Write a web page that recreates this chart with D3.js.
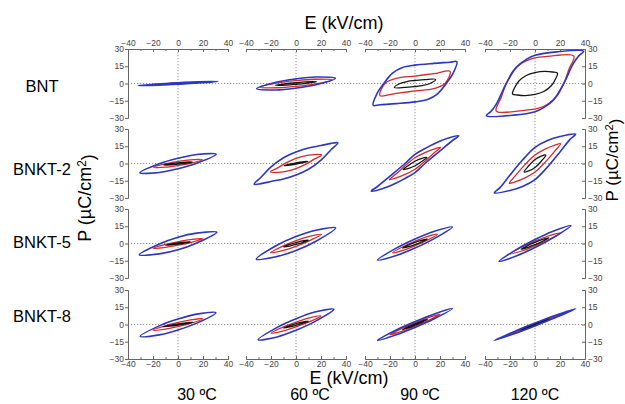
<!DOCTYPE html>
<html>
<head>
<meta charset="utf-8">
<script src="https://cdn.jsdelivr.net/npm/d3@7"></script>
<style>
  body { margin: 0; background: #fff; }
  text { font-family: "Liberation Sans", Arial, sans-serif; }
  .tick text { font-size: 8.5px; fill: #444; }
  .domain, .tick line { stroke: #666; }
</style>
</head>
<body>
<div id="chart"></div>
<script>
var rowNames = ["BNT", "BNKT-2", "BNKT-5", "BNKT-8"];
var temps = ["30 ºC", "60 ºC", "90 ºC", "120 ºC"];
var eTicks = [-40, -20, 0, 20, 40];
var eMinor = [-30, -10, 10, 30];
var pTicks = [-30, -15, 0, 15, 30];

// loop order in each panel: black, red, blue
// each loop = upper branch [E, P] from -Emax to +Emax; the lower branch is the same points turned through the origin
var bntLoops = [
  [ [[-15,-0.8],[-7.5,-0.15],[0,0.3],[7.5,0.65],[15,0.8]],
    [[-25,-1.4],[-12.5,-0.35],[0,0.4],[12.5,1.05],[25,1.4]],
    [[-32,-1.8],[-16,-0.4],[0,0.6],[16,1.4],[32,1.8]] ],
  [ [[-16.5,-1.5],[-8,-0.15],[0,0.7],[8,1.35],[16.5,1.5]],
    [[-29,-3.2],[-14.5,0.5],[0,2.5],[14.5,3.7],[29,3.2]],
    [[-31.5,-4.5],[-16,1.1],[0,4],[16,5.6],[31.5,4.5]] ],
  [ [[-16.5,-3.5],[-12,0],[-6,1.8],[0,2.6],[8,3.4],[16.5,3.5]],
    [[-28,-10.5],[-24,0],[-15,4.5],[0,6.5],[15,8.5],[28,10.5]],
    [[-33.5,-19],[-30,-8],[-25,0],[-18,9],[-10,14],[0,16],[15,17.5],[28,18.5],[33.5,19]] ],
  [ [[-18,-9],[-16,-3],[-13,2],[-7,7],[0,9.5],[8,10.5],[14,10],[18,9]],
    [[-31,-24],[-27,-12],[-23,0],[-17.5,11],[-10,18],[-3,21.5],[10,23.5],[31,24]],
    [[-39,-28],[-35,-24],[-30.5,-17],[-23,0],[-15,14],[-7,21],[0,24.5],[17,27.5],[39,28]] ]
];
var bnkt2Loops = [
  [ [[-11.5,-1.3],[-6,-0.15],[0,0.6],[6,1.2],[11.5,1.3]],
    [[-19.5,-3.4],[-10,-0.2],[0,1.8],[10,3.2],[19.5,3.4]],
    [[-30.5,-8],[-15,-0.2],[0,4.5],[15,7.8],[30.5,8]] ],
  [ [[-9.5,-1.8],[-5,-0.5],[0,0.6],[5,1.5],[9.5,1.8]],
    [[-20.5,-7.3],[-15,-4],[-8,0.5],[0,4.4],[8,6.8],[15,7.8],[20.5,7.3]],
    [[-33.5,-18],[-28,-12],[-20,-3],[-10,5],[0,10],[10,13.5],[20,15.6],[28,17.5],[33.5,18]] ],
  [ [[-9.5,-5.2],[-5,-1.5],[0,2],[5,4.3],[9.5,5.2]],
    [[-20.5,-14],[-15,-9],[-8,-2],[0,5],[8,9.5],[15,12.5],[20.5,14]],
    [[-35,-24],[-30,-20],[-20,-11],[-8,0],[0,8],[8,13],[15,17],[25,21.5],[35,24]] ],
  [ [[-8.7,-7.3],[-5,-2],[0,3.5],[5,6.5],[8.7,7.3]],
    [[-20.5,-17.2],[-16,-11],[-8,-1],[0,7.3],[8,12.5],[16,16],[20.5,17.2]],
    [[-32.5,-25.5],[-28,-21],[-20,-10],[-10,3],[0,14],[10,20],[20,23.5],[32.5,25.5]] ]
];
var bnkt5Loops = [
  [ [[-10,-1.5],[-5,-0.3],[0,0.5],[5,1.1],[10,1.5]],
    [[-20,-4.2],[-10,-0.8],[0,1.5],[10,3.3],[20,4.2]],
    [[-31,-9.8],[-15,-0.5],[0,5.5],[15,9],[31,9.8]] ],
  [ [[-10,-3],[-5,-0.8],[0,0.8],[5,2.2],[10,3]],
    [[-20.4,-8],[-10,-2],[0,2.5],[10,6],[20.4,8]],
    [[-31.7,-13.6],[-16,-2],[0,6],[16,11.5],[31.7,13.6]] ],
  [ [[-10,-4],[-5,-1.2],[0,1],[5,2.8],[10,4]],
    [[-18,-8.1],[-9,-2.4],[0,2],[9,5.8],[18,8.1]],
    [[-30,-14.4],[-15,-4],[0,4],[15,10.5],[30,14.4]] ],
  [ [[-11,-5],[-5.5,-1.6],[0,1],[5.5,3.3],[11,5]],
    [[-20,-9],[-10,-2.8],[0,2],[10,6.3],[20,9]],
    [[-28.7,-15.5],[-14,-4.7],[0,3.5],[14,10.5],[28.7,15.5]] ]
];
var bnkt8Loops = [
  [ [[-12,-2],[-6,-0.5],[0,0.6],[6,1.5],[12,2]],
    [[-20,-5],[-10,-1],[0,1.8],[10,4],[20,5]],
    [[-30.3,-10.3],[-15,-1.2],[0,4.7],[15,9],[30.3,10.3]] ],
  [ [[-10,-3],[-5,-0.9],[0,0.7],[5,2.1],[10,3]],
    [[-20,-7.5],[-10,-2],[0,2],[10,5.5],[20,7.5]],
    [[-30.3,-13.2],[-15,-2.5],[0,5],[15,10.8],[30.3,13.2]] ],
  [ [[-10,-4.5],[-5,-1.7],[0,0.6],[5,2.8],[10,4.5]],
    [[-20,-9],[-10,-3.2],[0,1.5],[10,5.8],[20,9]],
    [[-29.9,-13.8],[-15,-4.8],[0,2.5],[15,9],[29.9,13.8]] ],
  [ [[-12,-5],[-6,-2.2],[0,0.4],[6,2.8],[12,5]],
    [[-25,-10.5],[-12.5,-4.6],[0,0.8],[12.5,6],[25,10.5]],
    [[-32.5,-13.8],[-16,-5.8],[0,1.2],[16,7.8],[32.5,13.8]] ]
];
var rowLoops = [bntLoops, bnkt2Loops, bnkt5Loops, bnkt8Loops];

// layout
var svgWidth = 625, svgHeight = 404;
var colLeft = [128, 246, 365, 485];
var panelW = 100;
var rowTop = [49, 129, 209, 290];
var panelH = 69;
var loopColors = ["#151515", "#d62a2c", "#2b36c2"];
var loopWidths = [1.3, 1.3, 1.6];
var drawOrder = [1, 0, 2]; // red, black, blue on top

var svg = d3.select("#chart").append("svg")
  .attr("width", svgWidth)
  .attr("height", svgHeight);

var xScales = colLeft.map(x0 => d3.scaleLinear().domain([-40, 40]).range([x0, x0 + panelW]));
var yScales = rowTop.map(y0 => d3.scaleLinear().domain([-30, 30]).range([y0 + panelH, y0]));

var lastRow = rowTop.length - 1, lastCol = colLeft.length - 1;

// dotted zero lines
var grid = svg.append("g").attr("stroke", "#888").attr("stroke-dasharray", "1.2,1.8").attr("stroke-width", 0.9);
yScales.forEach(function(y) {
  grid.append("line")
    .attr("x1", colLeft[0]).attr("x2", colLeft[lastCol] + panelW)
    .attr("y1", y(0)).attr("y2", y(0));
});
xScales.forEach(function(x) {
  grid.append("line")
    .attr("x1", x(0)).attr("x2", x(0))
    .attr("y1", rowTop[0]).attr("y2", rowTop[lastRow] + panelH);
});

// axes
xScales.forEach(function(x) {
  svg.append("g")
    .attr("transform", `translate(0, ${rowTop[0]})`)
    .call(d3.axisTop(x).tickValues(eTicks).tickSize(-3).tickPadding(3));
  svg.append("g")
    .attr("transform", `translate(0, ${rowTop[0]})`)
    .call(d3.axisTop(x).tickValues(eMinor).tickSize(-2).tickFormat(""));
  svg.append("g")
    .attr("transform", `translate(0, ${rowTop[lastRow] + panelH})`)
    .call(d3.axisBottom(x).tickValues(eTicks).tickSize(-3).tickPadding(2));
  svg.append("g")
    .attr("transform", `translate(0, ${rowTop[lastRow] + panelH})`)
    .call(d3.axisBottom(x).tickValues(eMinor).tickSize(-2).tickFormat(""));
});
yScales.forEach(function(y) {
  svg.append("g")
    .attr("transform", `translate(${colLeft[0]}, 0)`)
    .call(d3.axisLeft(y).tickValues(pTicks).tickSize(3).tickPadding(1));
  svg.append("g")
    .attr("transform", `translate(${colLeft[lastCol] + panelW}, 0)`)
    .call(d3.axisRight(y).tickValues(pTicks).tickSize(-3).tickPadding(3));
});

// hysteresis loops
rowLoops.forEach(function(row, r) {
  row.forEach(function(panel, c) {
    var x = xScales[c], y = yScales[r];
    var line = d3.line()
      .x(d => x(d[0]))
      .y(d => y(d[1]))
      .curve(d3.curveCatmullRomClosed.alpha(0.5));
    drawOrder.forEach(function(k) {
      var upper = panel[k];
      var pts = upper.concat(upper.slice(1, -1).map(p => [-p[0], -p[1]]));
      svg.append("path")
        .attr("d", line(pts))
        .attr("fill", "none")
        .attr("stroke", loopColors[k])
        .attr("stroke-width", loopWidths[k]);
    });
  });
});

// titles and labels
svg.append("text")
  .attr("x", 344).attr("y", 29)
  .attr("text-anchor", "middle")
  .style("font-size", "18px")
  .text("E (kV/cm)");

svg.append("text")
  .attr("x", 349).attr("y", 384)
  .attr("text-anchor", "middle")
  .style("font-size", "18px")
  .text("E (kV/cm)");

var tempX = [197, 310, 420, 535];
temps.forEach(function(t, i) {
  svg.append("text")
    .attr("x", tempX[i]).attr("y", 400)
    .attr("text-anchor", "middle")
    .style("font-size", "16px")
    .text(t);
});

var rowLabelY = [92, 175, 248, 322];
rowNames.forEach(function(n, i) {
  svg.append("text")
    .attr("x", 42).attr("y", rowLabelY[i])
    .attr("text-anchor", "middle")
    .style("font-size", "16.5px")
    .text(n);
});

function pLabel(x, y, size) {
  var t = svg.append("text")
    .attr("transform", `translate(${x}, ${y}) rotate(-90)`)
    .attr("text-anchor", "middle")
    .style("font-size", size + "px");
  t.append("tspan").text("P (µC/cm");
  t.append("tspan").attr("dy", "-0.45em").style("font-size", (size * 0.66) + "px").text("2");
  t.append("tspan").attr("dy", "0.45em").text(")");
}
pLabel(91, 198, 18);
pLabel(618, 160, 17);
</script>
</body>
</html>
